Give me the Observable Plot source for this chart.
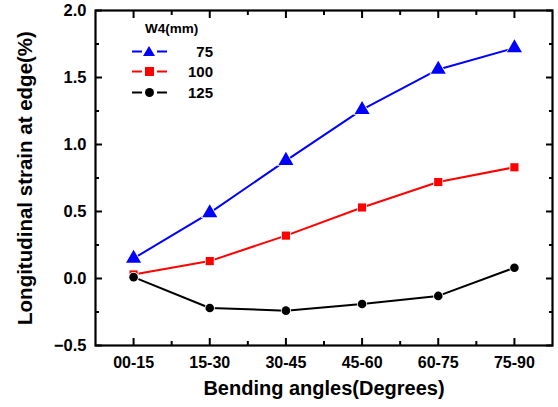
<!DOCTYPE html>
<html>
<head>
<meta charset="utf-8">
<script src="https://cdn.jsdelivr.net/npm/d3@7"></script>
<script src="https://cdn.jsdelivr.net/npm/@observablehq/plot@0.6"></script>
<style>
  html, body { margin: 0; padding: 0; background: #fff; }
  #wrap { position: relative; width: 558px; height: 407px; font-family: "Liberation Sans", Arial, sans-serif; }
  #legend { position: absolute; left: 131px; top: 21px; font-weight: bold; color: #000; }
  #legend .title { font-size: 13.5px; margin-left: 14px; height: 20px; }
  #legend .row { display: flex; align-items: center; height: 20.5px; }
  #legend .row span { display: inline-block; width: 44px; text-align: right; font-size: 15px; }
</style>
</head>
<body>
<div id="wrap"><div id="chart"></div><div id="legend"></div></div>
<script>
const categories = ["00-15", "15-30", "30-45", "45-60", "60-75", "75-90"];
const w75  = [0.15, 0.49, 0.88, 1.26, 1.56, 1.72];
const w100 = [0.03, 0.13, 0.32, 0.53, 0.72, 0.83];
const w125 = [0.01, -0.22, -0.24, -0.19, -0.13, 0.08];
const seriesNames = ["75", "100", "125"];
const seriesColors = ["#0000ff", "#ff0000", "#000000"];
const seriesSymbols = ["triangle", "square", "circle"];
const seriesValues = [w75, w100, w125];
const yMajor = [-0.5, 0.0, 0.5, 1.0, 1.5, 2.0];
const yMinor = [-0.25, 0.25, 0.75, 1.25, 1.75];

const rows = [];
seriesValues.forEach((vals, s) => vals.forEach((v, i) => rows.push({s: seriesNames[s], i, cat: categories[i], v})));
const xIdx = categories.map((_, i) => i);
const xMinor = categories.slice(0, -1).map((_, i) => i + 0.5);

const font = {fontFamily: "Liberation Sans, Arial, sans-serif", fontWeight: "bold"};
const colorOf = Object.fromEntries(seriesNames.map((n, k) => [n, seriesColors[k]]));
const symOf = Object.fromEntries(seriesNames.map((n, k) => [n, seriesSymbols[k]]));
const rOf = {"75": 5.6, "100": 4.6, "125": 4.3};

const marks = [];
for (const name of seriesNames) {
  const d = rows.filter(r => r.s === name);
  marks.push(Plot.line(d, {x: "i", y: "v", stroke: colorOf[name], strokeWidth: 2}));
}
for (const name of seriesNames) {
  const d = rows.filter(r => r.s === name);
  marks.push(Plot.dot(d, {x: "i", y: "v", symbol: () => symOf[name], fill: colorOf[name], stroke: "white", strokeWidth: 1.6, r: rOf[name], paintOrder: "stroke"}));
}

const tk = {label: null, text: null, strokeWidth: 2, stroke: "black"};
const chart = Plot.plot({
  width: 558, height: 407,
  marginLeft: 95, marginRight: 6, marginTop: 10, marginBottom: 62,
  style: {...font, fontSize: "16px", background: "white", overflow: "visible"},
  symbol: {type: "identity"},
  x: {type: "linear", domain: [-0.5, 5.5], axis: null},
  y: {domain: [-0.5, 2.0], axis: null},
  marks: [
    ...marks,
    Plot.axisY({ticks: yMajor, label: null, tickSize: 0, tickPadding: 9, tickFormat: d3.format(".1f"), fontSize: 16.5, fontWeight: "bold"}),
    Plot.axisY({...tk, ticks: yMajor, tickSize: 7, dx: 7}),
    Plot.axisY({...tk, ticks: yMinor, tickSize: 4, dx: 4}),
    Plot.axisY({...tk, ticks: yMajor, anchor: "right", tickSize: 7, dx: -7}),
    Plot.axisY({...tk, ticks: yMinor, anchor: "right", tickSize: 4, dx: -4}),
    Plot.axisX({ticks: xIdx, label: null, tickSize: 0, tickPadding: 11, tickFormat: i => categories[i], fontSize: 16, fontWeight: "bold"}),
    Plot.axisX({...tk, ticks: xIdx, tickSize: 7, dy: -7}),
    Plot.axisX({...tk, ticks: xMinor, tickSize: 4, dy: -4}),
    Plot.axisX({...tk, ticks: xIdx, anchor: "top", tickSize: 7, dy: 7}),
    Plot.axisX({...tk, ticks: xMinor, anchor: "top", tickSize: 4, dy: 4}),
    Plot.frame({stroke: "black", strokeWidth: 2.2}),
    Plot.text(["Bending angles(Degrees)"], {frameAnchor: "bottom", dy: 49, fontSize: 20, fontWeight: "bold", text: d => d}),
    Plot.text(["Longitudinal strain at edge(%)"], {frameAnchor: "left", dx: -70, rotate: -90, textAnchor: "middle", fontSize: 20.5, fontWeight: "bold", text: d => d})
  ]
});
document.getElementById("chart").appendChild(chart);

// legend
const lg = document.getElementById("legend");
const t = document.createElement("div"); t.className = "title"; t.textContent = "W4(mm)"; lg.appendChild(t);
seriesNames.forEach((name, k) => {
  const row = document.createElement("div"); row.className = "row";
  const sym = seriesSymbols[k];
  let shape = "";
  if (sym === "triangle") shape = `<path d="M18,3 L24,13 L12,13 Z" fill="${seriesColors[k]}"/>`;
  else if (sym === "square") shape = `<rect x="14" y="4" width="9" height="9" fill="${seriesColors[k]}"/>`;
  else shape = `<circle cx="18.5" cy="8.5" r="4.5" fill="${seriesColors[k]}"/>`;
  row.innerHTML = `<svg width="38" height="17"><line x1="1" x2="11" y1="8.5" y2="8.5" stroke="${seriesColors[k]}" stroke-width="2"/><line x1="26" x2="36" y1="8.5" y2="8.5" stroke="${seriesColors[k]}" stroke-width="2"/>${shape}</svg><span>${name}</span>`;
  lg.appendChild(row);
});
</script>
</body>
</html>
